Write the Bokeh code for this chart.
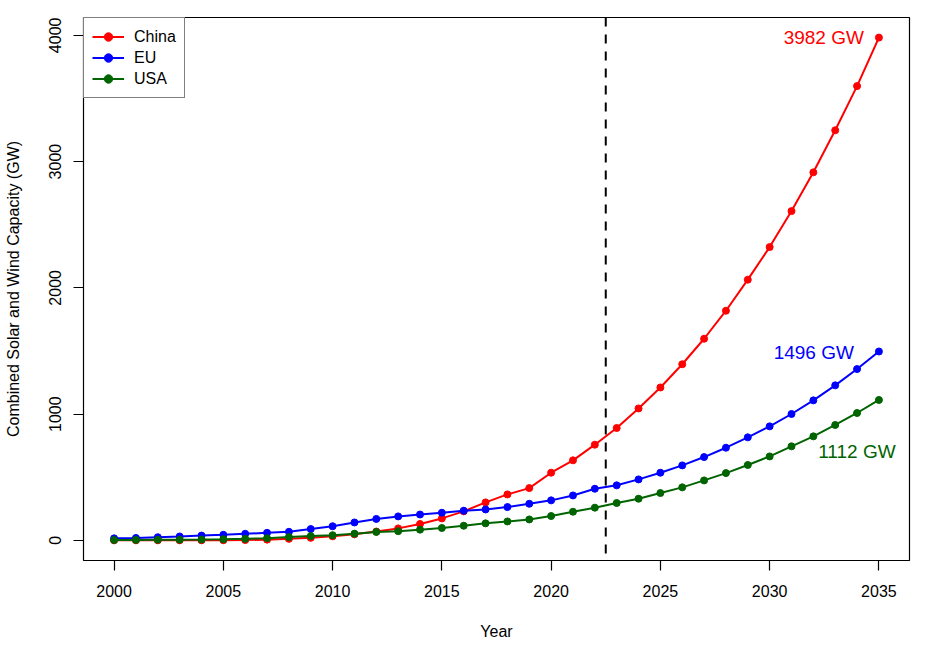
from bokeh.plotting import figure
from bokeh.models import Range1d, FixedTicker, Span, Legend, LegendItem
from bokeh.core.properties import value
from bokeh.embed import file_html
from bokeh.resources import INLINE

# ---- data ----
years = list(range(2000, 2036))
china = [0.3, 0.4, 0.5, 0.6, 0.8, 1.3, 2.6, 6, 12, 20, 32, 48, 70, 95, 130, 174, 230, 301,
         364, 414, 536, 634, 758, 890, 1045, 1211, 1395, 1597, 1819, 2065, 2323, 2608,
         2915, 3248, 3598, 3982]
eu = [16, 19, 25, 31, 38, 44, 52, 60, 68, 90, 112, 142, 170, 190, 205, 219, 235, 245,
      264, 290, 317, 356, 409, 436, 483, 536, 594, 660, 734, 816, 903, 1001, 1109, 1228,
      1357, 1496]
usa = [3, 4, 5, 6, 7, 9, 12, 17, 26, 34, 41, 53, 67, 73, 85, 98, 116, 135, 150, 166,
       193, 227, 259, 296, 330, 375, 420, 475, 533, 597, 665, 745, 824, 914, 1009, 1112]
series_names = ["China", "EU", "USA"]
x_ticks = [2000, 2005, 2010, 2015, 2020, 2025, 2030, 2035]
y_ticks = [0, 1000, 2000, 3000, 4000]
divider_year = 2022.5

FONT = "Liberation Sans"
colors = ["#FF0000", "#0000FF", "#006400"]

p = figure(width=934, height=643, output_backend="svg", toolbar_location=None,
           min_border_left=83, min_border_right=25, min_border_top=17, min_border_bottom=83,
           x_range=Range1d(1998.6, 2036.4), y_range=Range1d(-159.3, 4141.3),
           background_fill_color="white", border_fill_color="white")
p.outline_line_color = "black"
p.outline_line_width = 1.2
p.xgrid.visible = False
p.ygrid.visible = False

for ax in (p.xaxis[0], p.yaxis[0]):
    ax.axis_line_color = None
    ax.major_tick_line_color = "black"
    ax.major_tick_line_width = 1.2
    ax.major_tick_out = 10
    ax.major_tick_in = 0
    ax.minor_tick_line_color = None
    ax.major_label_text_font = FONT
    ax.major_label_text_font_size = "16px"
    ax.major_label_text_color = "black"
    ax.axis_label_text_font = FONT
    ax.axis_label_text_font_size = "16px"
    ax.axis_label_text_font_style = "normal"
    ax.axis_label_text_color = "black"

p.xaxis.ticker = FixedTicker(ticks=x_ticks)
p.yaxis.ticker = FixedTicker(ticks=y_ticks)
p.xaxis.axis_label = "Year"
p.yaxis.axis_label = "Combined Solar and Wind Capacity (GW)"
p.xaxis.major_label_standoff = 14
p.yaxis.major_label_standoff = 12
p.xaxis.axis_label_standoff = 23
p.yaxis.axis_label_standoff = 25
p.yaxis.major_label_orientation = "vertical"

items = []
for name, vals, col in zip(series_names, [china, eu, usa], colors):
    ln = p.line(years, vals, line_color=col, line_width=2)
    sc = p.scatter(years, vals, marker="circle", size=7, fill_color=col, line_color=col)
    items.append(LegendItem(label=name, renderers=[ln, sc]))

p.add_layout(Span(location=divider_year, dimension="height", line_color="black",
                  line_width=2, line_dash="9 8"))

# end labels
p.text(x=[years[-1]], y=[china[-1]], text=[f"{china[-1]} GW"], text_align="right",
       text_baseline="middle", x_offset=-15, text_color=colors[0],
       text_font=value(FONT), text_font_size="19px")
p.text(x=[years[-1]], y=[eu[-1]], text=[f"{eu[-1]} GW"], text_align="right",
       text_baseline="middle", x_offset=-25, y_offset=1, text_color=colors[1],
       text_font=value(FONT), text_font_size="19px")
p.text(x=[years[-1]], y=[usa[-1]], text=[f"{usa[-1]} GW"], text_align="center",
       text_baseline="middle", x_offset=-22, y_offset=52, text_color=colors[2],
       text_font=value(FONT), text_font_size="19px")

legend = Legend(items=items, location="top_left", margin=0, padding=8, spacing=0,
                glyph_width=32, glyph_height=21, label_height=21, label_standoff=10,
                border_line_color="black", border_line_width=1.2,
                background_fill_color="white", background_fill_alpha=1.0,
                label_text_font=FONT, label_text_font_size="16px",
                label_text_color="black")
p.add_layout(legend)

open("out.html", "w").write(file_html(p, INLINE))
